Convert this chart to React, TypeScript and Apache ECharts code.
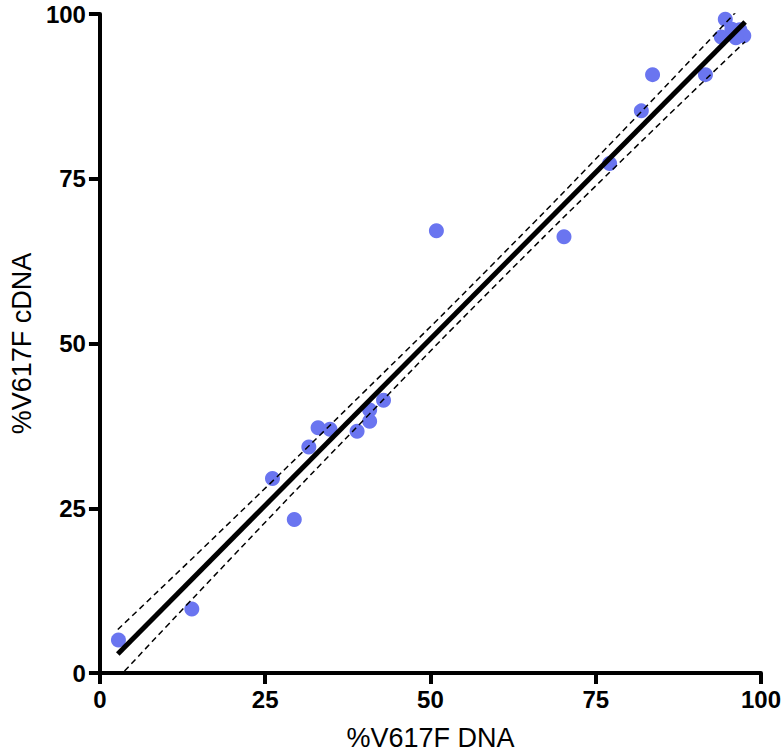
import React, { useEffect, useRef } from "react";
import * as echarts from "echarts";

const xTicks = [0, 25, 50, 75, 100];
const pointsX = [2.8, 13.9, 26.1, 29.4, 31.6, 33.0, 34.8, 38.9, 40.8, 40.8, 42.9, 50.9, 70.2, 77.1, 81.9, 83.6, 91.6, 94.6, 94.0, 95.6, 96.8, 97.4, 96.2];
const pointsY = [5.0, 9.7, 29.5, 23.3, 34.3, 37.2, 37.0, 36.7, 39.9, 38.2, 41.4, 67.1, 66.2, 77.3, 85.3, 90.8, 90.8, 99.2, 96.5, 97.7, 97.6, 96.7, 96.4];
const fitX = [2.7, 97.6];
const fitY = [2.9, 98.8];
const bandX = [2.7, 20, 40, 59, 80, 97.6];
const bandUpper = [6.6, 23.2, 42.7, 61.6, 83.2, 101.8];
const bandLower = [-0.8, 17.6, 38.5, 58.0, 78.8, 95.8];

export default function App() {
  const ref = useRef<HTMLDivElement>(null);
  useEffect(() => {
    if (!ref.current) return;
    const chart = echarts.init(ref.current, null, { renderer: "svg" });
    const font = "'Liberation Sans', Arial, sans-serif";
    const axisCommon = {
      type: "value" as const,
      min: xTicks[0],
      max: xTicks[xTicks.length - 1],
      interval: xTicks[1] - xTicks[0],
      splitLine: { show: false },
      axisLine: { show: true, lineStyle: { color: "#000", width: 4 } },
      axisTick: { show: true, length: 11, lineStyle: { color: "#000", width: 4 } },
      axisLabel: { color: "#000", fontSize: 24, fontWeight: "bold" as const, fontFamily: font, margin: 14 },
      nameLocation: "middle" as const,
      nameTextStyle: { color: "#000", fontSize: 27, fontFamily: font },
    };
    chart.setOption({
      animation: false,
      backgroundColor: "#fff",
      grid: { left: 97, right: 23, top: 14, bottom: 80 },
      xAxis: { ...axisCommon, name: "%V617F DNA", nameGap: 51 },
      yAxis: { ...axisCommon, name: "%V617F cDNA", nameGap: 62 },
      series: [
        {
          type: "scatter",
          data: pointsX.map((x, i) => [x, pointsY[i]]),
          symbolSize: 15,
          itemStyle: { color: "#6a75f0", opacity: 1 },
          z: 2,
        },
        {
          type: "line",
          data: fitX.map((x, i) => [x, fitY[i]]),
          showSymbol: false,
          lineStyle: { color: "#000", width: 5 },
          z: 3,
        },
        {
          type: "line",
          data: bandX.map((x, i) => [x, bandUpper[i]]),
          smooth: true,
          showSymbol: false,
          clip: true,
          lineStyle: { color: "#000", width: 1.5, type: [6, 4] },
          z: 3,
        },
        {
          type: "line",
          data: bandX.map((x, i) => [x, bandLower[i]]),
          smooth: true,
          showSymbol: false,
          clip: true,
          lineStyle: { color: "#000", width: 1.5, type: [6, 4] },
          z: 3,
        },
      ],
    });
    return () => chart.dispose();
  }, []);
  return <div ref={ref} style={{ position: "fixed", left: 0, top: 0, width: 784, height: 756 }} />;
}
